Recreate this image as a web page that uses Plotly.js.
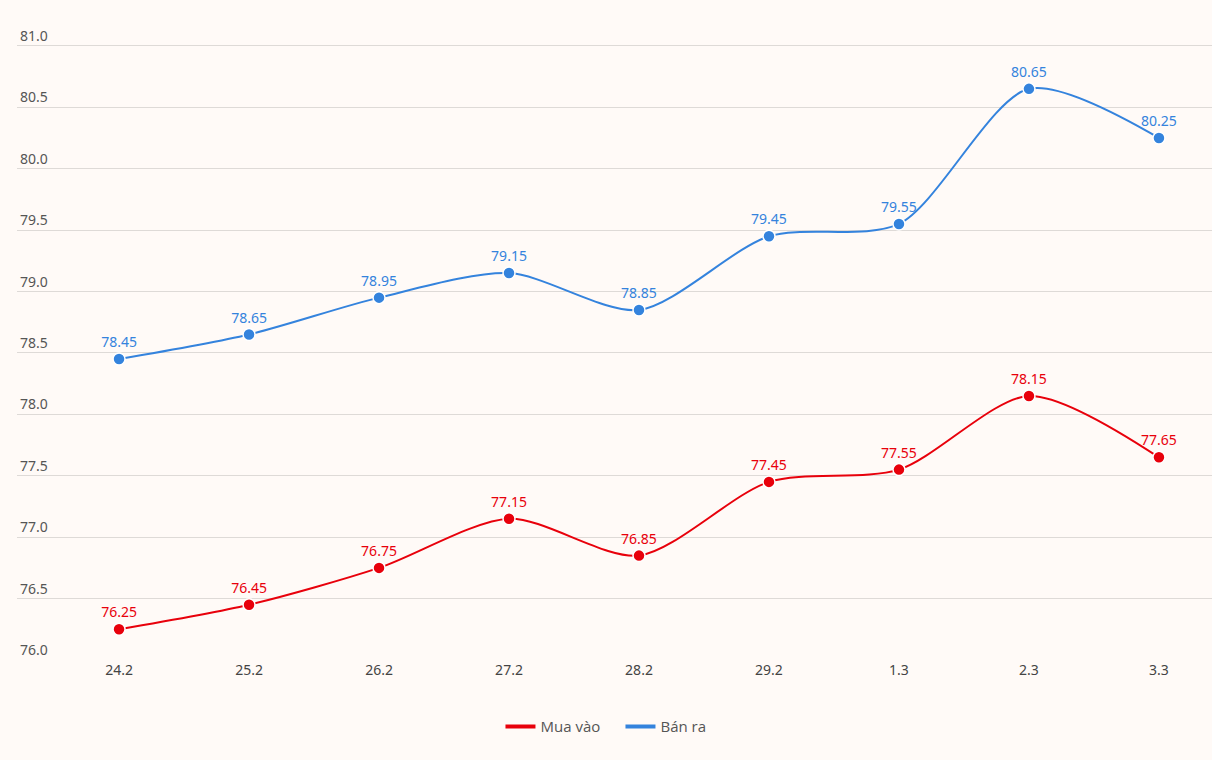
<!DOCTYPE html>
<html>
<head>
<meta charset="utf-8">
<script src="https://cdn.plot.ly/plotly-3.0.1.min.js"></script>
<style>
html,body{margin:0;padding:0;background:#fffaf7;}
#chart{width:1212px;height:760px;}
</style>
</head>
<body>
<div id="chart"></div>
<script>
const categories = ["24.2","25.2","26.2","27.2","28.2","29.2","1.3","2.3","3.3"];
const muaVao = [76.25,76.45,76.75,77.15,76.85,77.45,77.55,78.15,77.65];
const banRa = [78.45,78.65,78.95,79.15,78.85,79.45,79.55,80.65,80.25];
const yTicks = [76.0,76.5,77.0,77.5,78.0,78.5,79.0,79.5,80.0,80.5,81.0];

const RED = "#e8000b";
const BLUE = "#3483dd";
const xIdx = categories.map((c,i)=>i);

function series(name, vals, color){
  return {
    type:"scatter", mode:"lines+markers+text", name:name,
    x:xIdx, y:vals,
    text: vals.map(v=>v.toFixed(2)),
    textposition:"top center",
    textfont:{family:"Noto Sans, sans-serif", size:14, color:color},
    line:{color:color, width:2, shape:"spline", smoothing:0.8},
    marker:{color:color, size:12, line:{color:"#ffffff", width:1.5}},
    showlegend:false, hoverinfo:"x+y", cliponaxis:false
  };
}
function legendItem(name,color){
  return {type:"scatter", mode:"lines", name:name, x:[null], y:[null],
    line:{color:color, width:4}, showlegend:true};
}

const data = [
  series("Mua vào", muaVao, RED),
  series("Bán ra", banRa, BLUE),
  legendItem("Mua vào", RED),
  legendItem("Bán ra", BLUE)
];

const layout = {
  width:1212, height:760,
  paper_bgcolor:"#fffaf7", plot_bgcolor:"#fffaf7",
  margin:{l:17, r:0, t:9, b:100},
  showlegend:true,
  legend:{orientation:"h", x:0.505, xanchor:"center", y:-0.077, yanchor:"top",
    font:{family:"Open Sans, sans-serif", size:15, color:"#555"}, entrywidth:75, entrywidthmode:"pixels"},
  xaxis:{
    range:[-0.785, 8.408],
    tickmode:"array", tickvals:xIdx, ticktext:categories,
    showgrid:false, zeroline:false, showline:false, ticks:"",
    tickfont:{family:"Noto Sans, sans-serif", size:14, color:"#444"},
    fixedrange:true
  },
  yaxis:{
    range:[76.0, 81.3],
    tickmode:"array", tickvals:yTicks, ticktext:yTicks.map(v=>v.toFixed(1)),
    ticklabelposition:"inside top",
    showgrid:true, gridcolor:"#dedad7", gridwidth:1,
    zeroline:false, showline:false, ticks:"",
    tickfont:{family:"Noto Sans, sans-serif", size:14, color:"#555"},
    fixedrange:true
  }
};

Plotly.newPlot("chart", data, layout, {displayModeBar:false, staticPlot:true});
</script>
</body>
</html>
